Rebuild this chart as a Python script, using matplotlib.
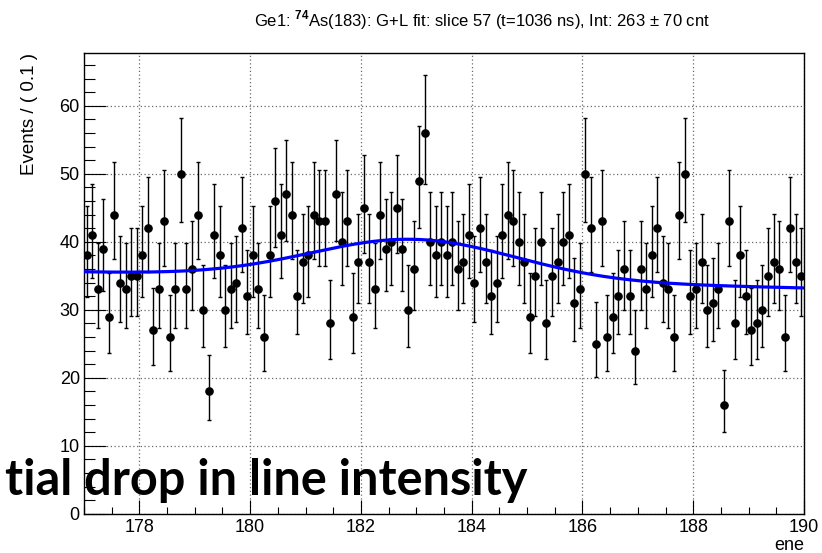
import math
import numpy as np
import matplotlib
matplotlib.use("Agg")
import matplotlib.pyplot as plt
from matplotlib.ticker import MultipleLocator

# ---------------- data ----------------
bin_width = 0.1
x_min, x_max = 177.0, 190.0
counts = [
    38, 41, 33, 39, 29, 44, 34, 33, 35, 35,
    38, 42, 27, 33, 43, 26, 33, 50, 33, 36,
    44, 30, 18, 41, 38, 30, 33, 34, 42, 32,
    38, 33, 26, 38, 46, 41, 47, 44, 32, 37,
    38, 44, 43, 43, 28, 47, 40, 43, 29, 37,
    45, 37, 33, 44, 39, 40, 45, 39, 30, 36,
    49, 56, 40, 38, 40, 38, 40, 36, 37, 41,
    34, 42, 37, 32, 34, 41, 44, 43, 40, 37,
    29, 35, 40, 28, 35, 37, 40, 41, 31, 33,
    50, 42, 25, 43, 26, 29, 32, 36, 32, 24,
    36, 33, 38, 42, 34, 33, 26, 44, 50, 32,
    33, 37, 30, 31, 33, 16, 43, 28, 38, 32,
    27, 28, 30, 35, 37, 36, 26, 42, 37, 35,
]

# Gaussian + linear fit parameters
fit_mean = 182.95
fit_sigma = 1.85
fit_amp = 5.88
bg_at_mean = 34.47
bg_slope = -0.181

title = r"Ge1: $^{\mathbf{74}}$As(183): G+L fit: slice 57 (t=1036 ns), Int: 263 $\pm$ 70 cnt"
y_label = "Events / ( 0.1 )"
x_label = "ene"
overlay_text = "tial drop in line intensity"
x_major = [178, 180, 182, 184, 186, 188, 190]
y_major = [0, 10, 20, 30, 40, 50, 60]

# ---------------- helpers ----------------
def reg_lower_gamma(a, x):
    if x <= 0:
        return 0.0
    term = 1.0 / a
    s = term
    k = 1
    while k < 2000:
        term *= x / (a + k)
        s += term
        if term < s * 1e-14:
            break
        k += 1
    return math.exp(a * math.log(x) - x - math.lgamma(a)) * s

def solve(fun, target, lo, hi):
    for _ in range(80):
        mid = 0.5 * (lo + hi)
        if fun(mid) < target:
            lo = mid
        else:
            hi = mid
    return 0.5 * (lo + hi)

alpha = (1 - 0.682689492) / 2
def poisson_interval(n):
    if n == 0:
        lo = 0.0
    else:
        lo = solve(lambda m: reg_lower_gamma(n, m), alpha, 0.0, n + 1)
    hi = solve(lambda m: reg_lower_gamma(n + 1, m), 1 - alpha, n, n + 50 + 10 * math.sqrt(n + 1))
    return lo, hi

counts = np.array(counts, dtype=float)
centers = x_min + bin_width * (np.arange(len(counts)) + 0.5)
ints = [poisson_interval(int(c)) for c in counts]
err_lo = counts - np.array([i[0] for i in ints])
err_hi = np.array([i[1] for i in ints]) - counts

xf = np.linspace(x_min, x_max, 600)
yf = bg_at_mean + bg_slope * (xf - fit_mean) + fit_amp * np.exp(-0.5 * ((xf - fit_mean) / fit_sigma) ** 2)

# ---------------- figure ----------------
plt.rcParams["font.family"] = ["Liberation Sans", "DejaVu Sans"]
plt.rcParams["mathtext.fontset"] = "custom"
plt.rcParams["mathtext.rm"] = "Liberation Sans"
plt.rcParams["mathtext.bf"] = "Liberation Sans:bold"

W, H = 822, 553
fig = plt.figure(figsize=(W / 100, H / 100), dpi=100)
ax = fig.add_axes([84 / W, 1 - 513.7 / H, (804 - 84) / W, (513.7 - 53) / H])

ax.set_xlim(x_min, x_max)
ax.set_ylim(0, 67.75)

ax.grid(True, which="major", color="#6a6a6a", linestyle=(0, (1, 2)), linewidth=0.9, zorder=0)
ax.set_axisbelow(True)

ax.errorbar(centers, counts, yerr=[err_lo, err_hi], fmt="o", color="black",
            markersize=5.2, elinewidth=1.0, capsize=1.6, capthick=1.0, zorder=3)
ax.plot(xf, yf, color="#0000ff", linewidth=2.3, zorder=4)

ax.xaxis.set_minor_locator(MultipleLocator(0.5))
ax.yaxis.set_minor_locator(MultipleLocator(2))
ax.set_xticks(x_major)
ax.set_yticks(y_major)
ax.set_xticklabels([str(v) for v in x_major])
ax.set_yticklabels([str(v) for v in y_major])

ax.tick_params(axis="x", which="major", direction="in", length=10, width=0.8, labelsize=13, pad=4)
ax.tick_params(axis="x", which="minor", direction="in", length=5, width=0.8)
ax.tick_params(axis="y", which="major", direction="in", length=15.5, width=0.8, labelsize=13, pad=3)
ax.tick_params(axis="y", which="minor", direction="in", length=7.8, width=0.8)
for s in ax.spines.values():
    s.set_linewidth(1.0)

fig.text(482 / W, 1 - 20 / H, title, ha="center", va="center", fontsize=12)
fig.text(30 / W, 1 - 53 / H, y_label, rotation=90, ha="center", va="top", fontsize=13.5)
fig.text(804 / W, 1 - 545 / H, x_label, ha="right", va="center", fontsize=13)

fig.text(527 / W, 1 - 495 / H, overlay_text, ha="right", va="baseline",
         fontsize=35, fontweight="bold", family=["Lato", "DejaVu Sans"], color="black", zorder=10)

fig.savefig("out.png", dpi=100)
